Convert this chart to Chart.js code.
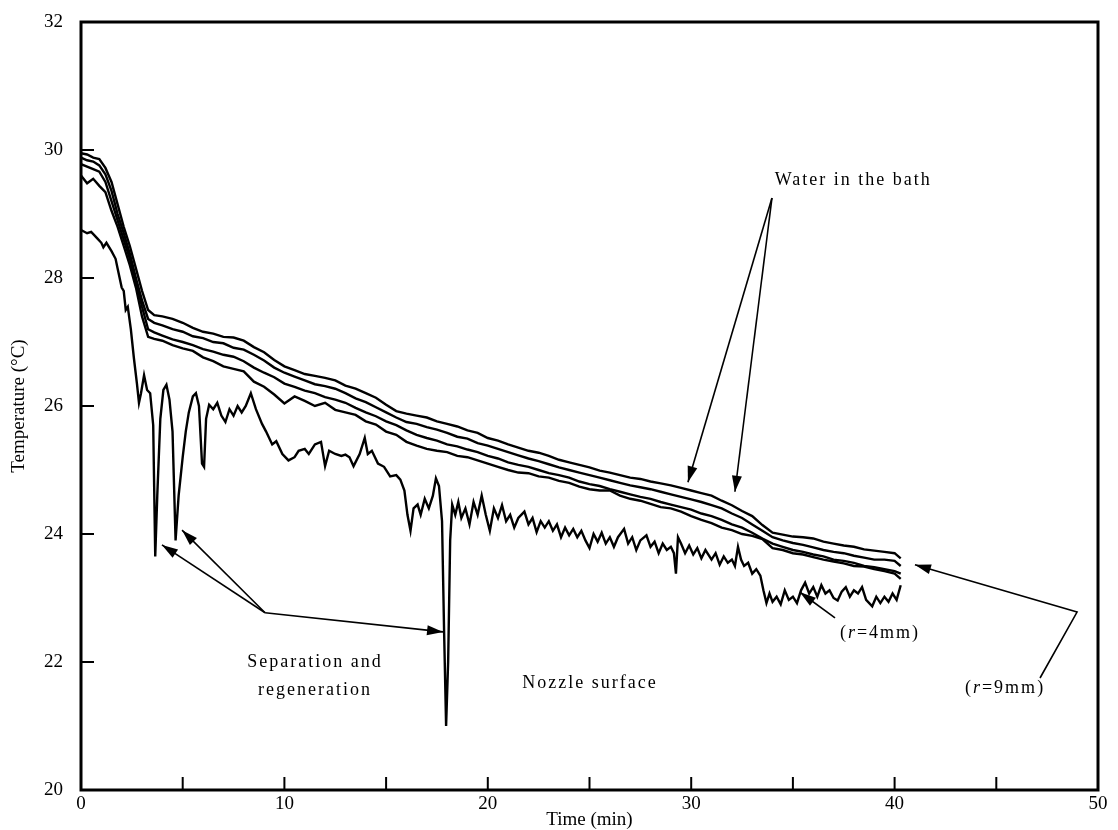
<!DOCTYPE html>
<html>
<head>
<meta charset="utf-8">
<script src="https://cdn.jsdelivr.net/npm/chart.js@4"></script>
<style>
  html, body { margin: 0; padding: 0; background: #fff; }
  canvas { display: block; }
</style>
</head>
<body>
<canvas id="c" width="1118" height="830"></canvas>
<script>
// ---------- DATA ----------
const xTickLabels = [0, 10, 20, 30, 40, 50];
const xTickMarks = [5, 10, 15, 20, 25, 30, 35, 40, 45];
const yTickLabels = [20, 22, 24, 26, 28, 30, 32];
const yTickMarks = [22, 24, 26, 28, 30];

const timeUpper = [
  0, 0.3, 0.6, 0.9, 1.2, 1.5, 1.8, 2.1, 2.4, 2.7, 3.0, 3.3, 3.6,
  4.0, 4.5, 5.0, 5.5, 6.0, 6.5, 7.0, 7.5, 8.0, 8.5, 9.0, 9.5,
  10.0, 10.5, 11.0, 11.5, 12.0, 12.5, 13.0, 13.5, 14.0, 14.5, 15.0, 15.5,
  16.0, 16.5, 17.0, 17.5, 18.0, 18.5, 19.0, 19.5, 20.0, 20.5, 21.0, 21.5,
  22.0, 22.5, 23.0, 23.5, 24.0, 24.5, 25.0, 25.5, 26.0, 26.5, 27.0, 27.5,
  28.0, 28.5, 29.0, 29.5, 30.0, 30.5, 31.0, 31.5, 32.0, 32.5, 33.0, 33.5,
  34.0, 34.5, 35.0, 35.5, 36.0, 36.5, 37.0, 37.5, 38.0, 38.5, 39.0, 39.5,
  40.0, 40.3
];
const tempWater1 = [
  29.95, 29.93, 29.88, 29.86, 29.72, 29.5, 29.15, 28.8, 28.5, 28.15, 27.8, 27.5, 27.42,
  27.4, 27.36, 27.3, 27.22, 27.16, 27.13, 27.08, 27.07, 27.02, 26.92, 26.84, 26.72,
  26.62, 26.56, 26.5, 26.47, 26.44, 26.4, 26.32, 26.27, 26.2, 26.13, 26.02, 25.92,
  25.88, 25.85, 25.82, 25.76, 25.72, 25.68, 25.62, 25.58, 25.5, 25.46, 25.4, 25.35,
  25.3, 25.27, 25.22, 25.16, 25.12, 25.08, 25.04, 24.99, 24.96, 24.92, 24.88, 24.86,
  24.82, 24.79, 24.76, 24.72, 24.68, 24.64, 24.6, 24.52, 24.45, 24.36, 24.28, 24.14,
  24.02, 23.99, 23.96, 23.95, 23.93, 23.88, 23.85, 23.82, 23.8, 23.76, 23.74, 23.72,
  23.7, 23.62
];
const tempWater2 = [
  29.88, 29.84, 29.82, 29.76, 29.62, 29.36, 29.0, 28.7, 28.38, 28.0, 27.65, 27.36, 27.3,
  27.26, 27.2, 27.16, 27.09, 27.06, 27.0, 26.98, 26.91, 26.88, 26.8, 26.71, 26.6,
  26.52, 26.46, 26.4, 26.34, 26.31, 26.27, 26.2, 26.12, 26.06, 25.98, 25.9, 25.82,
  25.75, 25.72, 25.67, 25.63, 25.58, 25.52, 25.49, 25.42, 25.38, 25.33, 25.28, 25.23,
  25.18, 25.14, 25.09, 25.04, 25.0, 24.96, 24.92, 24.88, 24.84, 24.8, 24.76, 24.73,
  24.7, 24.66, 24.62, 24.58, 24.54, 24.5, 24.45, 24.4, 24.32, 24.25, 24.15, 24.05,
  23.95, 23.9, 23.86, 23.83, 23.79, 23.75, 23.72, 23.7, 23.66, 23.63, 23.6, 23.6,
  23.58, 23.5
];
const tempNozzle9a = [
  29.78, 29.74, 29.7, 29.66, 29.5, 29.2, 28.9, 28.6, 28.3, 27.95, 27.55, 27.2, 27.15,
  27.1, 27.04, 27.0, 26.95, 26.89, 26.85, 26.8, 26.77, 26.7, 26.6, 26.52, 26.45,
  26.35, 26.3, 26.24, 26.2, 26.14, 26.1, 26.05, 25.97, 25.9, 25.84, 25.76, 25.7,
  25.62, 25.55, 25.5, 25.46, 25.4, 25.37, 25.32, 25.28, 25.22, 25.18, 25.12, 25.08,
  25.05, 25.0, 24.95, 24.92, 24.88, 24.82, 24.78, 24.75, 24.7, 24.66, 24.62, 24.58,
  24.55, 24.5, 24.46, 24.42, 24.38, 24.32, 24.28, 24.22, 24.15, 24.1, 24.02, 23.93,
  23.85, 23.8, 23.75, 23.72, 23.68, 23.65, 23.6, 23.58, 23.55, 23.5, 23.48, 23.45,
  23.42, 23.38
];
const tempNozzle9b = [
  29.6, 29.48, 29.55, 29.44, 29.34, 29.05, 28.8, 28.5, 28.2, 27.85, 27.4, 27.08, 27.05,
  27.02, 26.95, 26.9, 26.86, 26.76, 26.7, 26.62, 26.58, 26.54, 26.38, 26.3, 26.18,
  26.04, 26.15, 26.08, 26.0, 26.05, 25.94, 25.9, 25.86, 25.76, 25.71, 25.6, 25.55,
  25.44, 25.38, 25.33, 25.3, 25.28, 25.22, 25.2, 25.15, 25.1, 25.05, 25.0, 24.96,
  24.95, 24.9, 24.88, 24.83, 24.8, 24.74, 24.7, 24.68, 24.68, 24.6, 24.55, 24.52,
  24.47, 24.42, 24.4, 24.35, 24.28, 24.22, 24.17, 24.1, 24.06, 24.0, 23.97, 23.92,
  23.78, 23.75, 23.7, 23.68, 23.64, 23.6, 23.57, 23.54, 23.5, 23.49, 23.45, 23.42,
  23.38, 23.3
];

const timeNozzle4 = [
  0, 0.3, 0.5, 0.8, 1.0, 1.1, 1.25, 1.5, 1.7, 1.8,
  2.0, 2.1, 2.2, 2.3, 2.45, 2.6, 2.75, 2.85, 2.95, 3.1,
  3.25, 3.4, 3.55, 3.65, 3.75, 3.9, 4.05, 4.2, 4.35, 4.5,
  4.65, 4.8, 5.0, 5.15, 5.3, 5.5, 5.65, 5.8, 5.95, 6.05,
  6.15, 6.3, 6.5, 6.7, 6.9, 7.1, 7.3, 7.5, 7.7, 7.9,
  8.1, 8.35, 8.6, 8.9, 9.1, 9.4, 9.6, 9.9, 10.2, 10.5,
  10.7, 11.0, 11.2, 11.5, 11.8, 12.0, 12.2, 12.5, 12.8, 13.0,
  13.2, 13.4, 13.7, 13.95, 14.1, 14.3, 14.6, 14.9, 15.2, 15.5,
  15.7, 15.9, 16.05, 16.2, 16.35, 16.55, 16.7, 16.9, 17.1, 17.3,
  17.45, 17.6, 17.75, 17.85, 17.95, 18.05, 18.15, 18.25, 18.4, 18.55,
  18.7, 18.9, 19.1, 19.3, 19.5, 19.7, 19.9, 20.1, 20.3, 20.5,
  20.7, 20.9, 21.1, 21.3, 21.5, 21.8, 22.0, 22.2, 22.4, 22.6,
  22.8, 23.0, 23.2, 23.4, 23.6, 23.8, 24.0, 24.2, 24.4, 24.6,
  24.8, 25.0, 25.2, 25.4, 25.6, 25.8, 26.0, 26.2, 26.4, 26.7,
  26.9, 27.1, 27.3, 27.5, 27.8, 28.0, 28.2, 28.4, 28.6, 28.8,
  29.0, 29.15, 29.25, 29.35, 29.5, 29.7, 29.9, 30.1, 30.3, 30.5,
  30.7, 31.0, 31.2, 31.4, 31.6, 31.8, 32.0, 32.15, 32.3, 32.45,
  32.6, 32.8, 33.0, 33.2, 33.4, 33.55, 33.7, 33.85, 34.0, 34.2,
  34.4, 34.6, 34.8, 35.0, 35.2, 35.4, 35.6, 35.8, 36.0, 36.2,
  36.4, 36.6, 36.8, 37.0, 37.2, 37.4, 37.6, 37.8, 38.0, 38.2,
  38.4, 38.6, 38.9, 39.1, 39.3, 39.5, 39.7, 39.9, 40.1, 40.3
];
const tempNozzle4 = [
  28.75, 28.7, 28.72, 28.62, 28.55, 28.48, 28.55, 28.42, 28.3, 28.15,
  27.85, 27.8, 27.5, 27.55, 27.2, 26.75, 26.35, 26.05, 26.2, 26.48,
  26.25, 26.2, 25.7, 23.65, 24.6, 25.8, 26.25, 26.33, 26.1, 25.6,
  23.9, 24.6, 25.2, 25.6, 25.9, 26.15, 26.2, 26.0, 25.1, 25.05,
  25.8, 26.02, 25.95, 26.05, 25.85, 25.75, 25.95, 25.85, 26.0, 25.9,
  26.0, 26.2, 25.95, 25.72, 25.6, 25.4, 25.45, 25.25, 25.15, 25.2,
  25.3, 25.33, 25.25, 25.4, 25.44, 25.06, 25.3, 25.25, 25.22, 25.24,
  25.2, 25.06, 25.25, 25.5, 25.25, 25.3, 25.1, 25.05, 24.9, 24.92,
  24.85, 24.68, 24.3, 24.05, 24.4, 24.46, 24.3, 24.55, 24.4, 24.6,
  24.87, 24.75, 24.2, 22.5, 21.0, 22.0, 23.9, 24.46, 24.3, 24.5,
  24.25, 24.4, 24.15, 24.5, 24.3, 24.6, 24.3, 24.05, 24.4, 24.25,
  24.45, 24.2, 24.3, 24.1, 24.25, 24.35, 24.15, 24.25, 24.03, 24.2,
  24.1, 24.2, 24.05, 24.15, 23.95, 24.1, 23.98, 24.08, 23.95, 24.05,
  23.9, 23.78, 24.0, 23.88, 24.02, 23.85, 23.95, 23.8, 23.95, 24.08,
  23.85, 23.95, 23.75, 23.9, 23.98, 23.8, 23.88, 23.7, 23.85, 23.75,
  23.8, 23.7, 23.38, 23.95, 23.85, 23.7, 23.82, 23.68, 23.78, 23.62,
  23.75, 23.6, 23.7, 23.52, 23.65, 23.55, 23.6, 23.5, 23.8, 23.6,
  23.5, 23.55, 23.38, 23.45, 23.35, 23.12, 22.92, 23.07, 22.94, 23.02,
  22.9, 23.12, 22.97, 23.02, 22.92, 23.12, 23.24, 23.07, 23.17, 23.02,
  23.2, 23.07, 23.12, 23.0, 22.96, 23.1, 23.17, 23.02, 23.12, 23.07,
  23.17, 22.97, 22.87, 23.02, 22.92, 23.02, 22.94, 23.07, 22.97, 23.2
];

// ---------- ANNOTATIONS (data coordinates) ----------
const annoTexts = [
  { parts: [{ t: 'Water in the bath' }], x: 37.97, y: 29.52 },
  { parts: [{ t: 'Separation and' }], x: 11.5, y: 22.0 },
  { parts: [{ t: 'regeneration' }], x: 11.5, y: 21.56 },
  { parts: [{ t: 'Nozzle surface' }], x: 25.02, y: 21.67 },
  { parts: [{ t: '(' }, { t: 'r', i: true }, { t: '=4mm)' }], x: 39.28, y: 22.45 },
  { parts: [{ t: '(' }, { t: 'r', i: true }, { t: '=9mm)' }], x: 45.43, y: 21.59 }
];
const annoArrows = [
  [[33.97, 29.25], [29.84, 24.81]],
  [[33.97, 29.25], [32.15, 24.66]],
  [[9.05, 22.77], [3.98, 23.83]],
  [[9.05, 22.77], [4.97, 24.06]],
  [[9.05, 22.77], [17.8, 22.47]],
  [[37.07, 22.69], [35.35, 23.09]],
  [[47.15, 21.75], [48.97, 22.78], [41.0, 23.52]]
];

// ---------- BUILD ----------
const FONT = "'Liberation Serif', 'Times New Roman', serif";
function pts(xs, ys) { return xs.map((v, i) => ({ x: v, y: ys[i] })); }
function ds(label, data) {
  return { label, data, showLine: true, borderColor: '#000', borderWidth: 2.4,
           pointRadius: 0, fill: false, tension: 0 };
}

const framePlugin = {
  id: 'frameAnno',
  afterDatasetsDraw(chart) {
    const { ctx, chartArea: a, scales: { x, y } } = chart;
    ctx.save();
    ctx.strokeStyle = '#000';
    ctx.lineWidth = 3;
    ctx.strokeRect(a.left, a.top, a.right - a.left, a.bottom - a.top);
    ctx.lineWidth = 2;
    ctx.beginPath();
    xTickMarks.forEach(v => {
      const px = x.getPixelForValue(v);
      ctx.moveTo(px, a.bottom); ctx.lineTo(px, a.bottom - 13);
    });
    yTickMarks.forEach(v => {
      const py = y.getPixelForValue(v);
      ctx.moveTo(a.left, py); ctx.lineTo(a.left + 13, py);
    });
    ctx.stroke();

    // arrows
    ctx.lineWidth = 1.6;
    ctx.fillStyle = '#000';
    annoArrows.forEach(line => {
      const p = line.map(q => [x.getPixelForValue(q[0]), y.getPixelForValue(q[1])]);
      ctx.beginPath();
      ctx.moveTo(p[0][0], p[0][1]);
      for (let i = 1; i < p.length; i++) ctx.lineTo(p[i][0], p[i][1]);
      ctx.stroke();
      const [x1, y1] = p[p.length - 2], [x2, y2] = p[p.length - 1];
      const ang = Math.atan2(y2 - y1, x2 - x1);
      const L = 16, W = 5;
      ctx.beginPath();
      ctx.moveTo(x2, y2);
      ctx.lineTo(x2 - L * Math.cos(ang) + W * Math.sin(ang), y2 - L * Math.sin(ang) - W * Math.cos(ang));
      ctx.lineTo(x2 - L * Math.cos(ang) - W * Math.sin(ang), y2 - L * Math.sin(ang) + W * Math.cos(ang));
      ctx.closePath();
      ctx.fill();
    });

    // texts
    ctx.textBaseline = 'middle';
    ctx.textAlign = 'left';
    annoTexts.forEach(a2 => {
      ctx.letterSpacing = '2px';
      const fontFor = part => (part.i ? 'italic ' : '') + '18px ' + FONT;
      let total = 0;
      a2.parts.forEach(part => { ctx.font = fontFor(part); total += ctx.measureText(part.t).width; });
      let cx = x.getPixelForValue(a2.x) - total / 2;
      const cy = y.getPixelForValue(a2.y);
      a2.parts.forEach(part => {
        ctx.font = fontFor(part);
        ctx.fillText(part.t, cx, cy);
        cx += ctx.measureText(part.t).width;
      });
    });
    ctx.restore();
  }
};

new Chart(document.getElementById('c'), {
  type: 'scatter',
  data: {
    datasets: [
      ds('Water in the bath 1', pts(timeUpper, tempWater1)),
      ds('Water in the bath 2', pts(timeUpper, tempWater2)),
      ds('Nozzle surface r=9mm a', pts(timeUpper, tempNozzle9a)),
      ds('Nozzle surface r=9mm b', pts(timeUpper, tempNozzle9b)),
      ds('Nozzle surface r=4mm', pts(timeNozzle4, tempNozzle4))
    ]
  },
  options: {
    responsive: false,
    animation: false,
    layout: { padding: { top: 22, right: 20, left: 0, bottom: 0 } },
    plugins: { legend: { display: false }, tooltip: { enabled: false } },
    scales: {
      x: {
        type: 'linear', min: 0, max: 50,
        afterBuildTicks: s => { s.ticks = xTickLabels.map(v => ({ value: v })); },
        ticks: { font: { family: FONT, size: 19 }, color: '#000', padding: -5, maxRotation: 0, autoSkip: false },
        grid: { display: false },
        border: { display: false },
        title: { display: true, text: 'Time (min)', color: '#000',
                 font: { family: FONT, size: 19, lineHeight: 1.0 }, padding: { top: 0, bottom: 0 } },
        afterFit: s => { s.height = 40; }
      },
      y: {
        type: 'linear', min: 20, max: 32,
        afterBuildTicks: s => { s.ticks = yTickLabels.map(v => ({ value: v })); },
        ticks: { font: { family: FONT, size: 19 }, color: '#000', padding: 10 },
        grid: { display: false },
        border: { display: false },
        title: { display: true, text: 'Temperature (°C)', color: '#000',
                 font: { family: FONT, size: 19 }, padding: { top: 8, bottom: 0 } },
        afterFit: s => { s.width = 81; }
      }
    }
  },
  plugins: [framePlugin]
});
</script>
</body>
</html>
